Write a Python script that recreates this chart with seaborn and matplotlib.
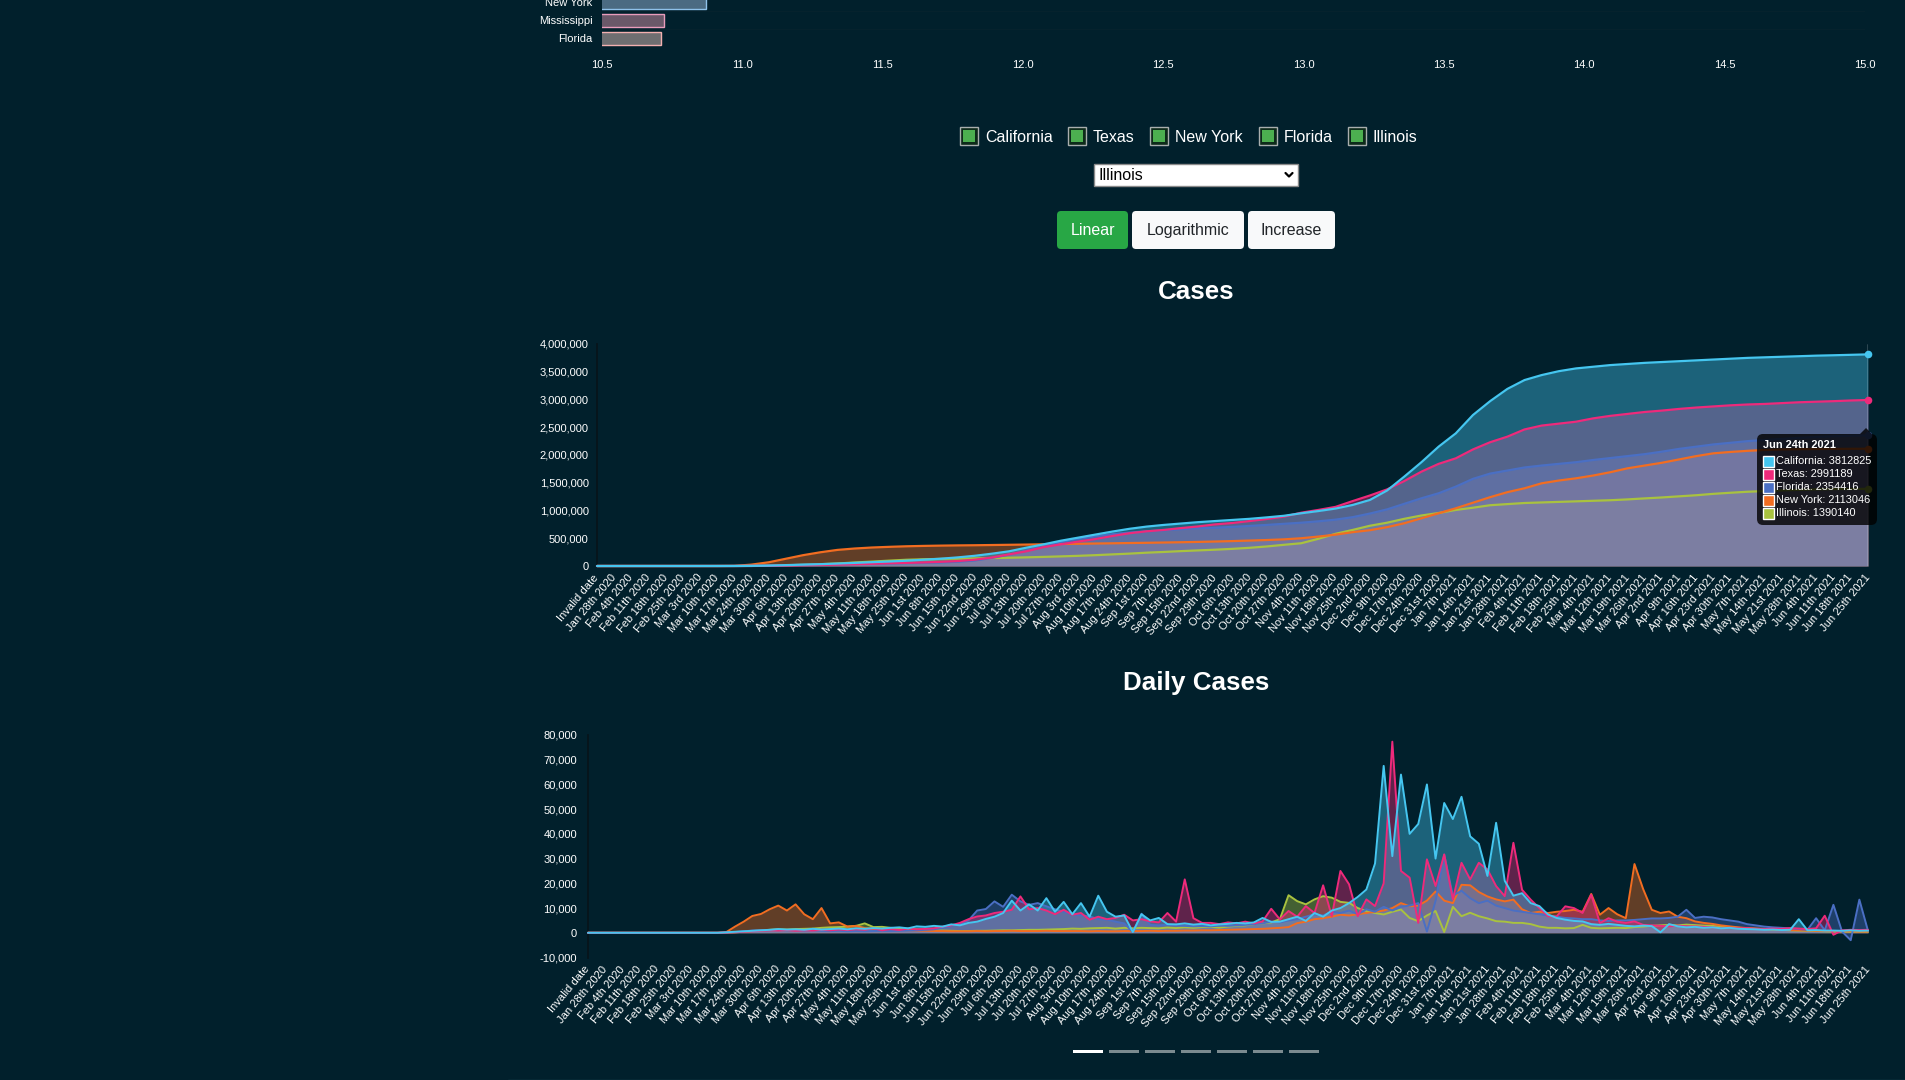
import numpy as np
import pandas as pd
import seaborn as sns
import matplotlib.pyplot as plt
from matplotlib.patches import Rectangle, FancyBboxPatch, Polygon
from matplotlib.ticker import FuncFormatter

W, H = 1905, 1080
BG = '#01202c'

# ---------------------------------------------------
# top bar chart (cut off by the top of the page)
# ---------------------------------------------------
bar_states = ['New York', 'Mississippi', 'Florida']
bar_values = [10.87, 10.72, 10.71]
bar_fill = ['#4b6b82', '#6a5869', '#6e6e71']
bar_edge = ['#8fc2ea', '#e99cbc', '#f2b0b0']
bar_ticks = [10.5, 11.0, 11.5, 12.0, 12.5, 13.0, 13.5, 14.0, 14.5, 15.0]

# ---------------------------------------------------
# controls
# ---------------------------------------------------
check_states = ['California', 'Texas', 'New York', 'Florida', 'Illinois']
selected_state = 'Illinois'
buttons = ['Linear', 'Logarithmic', 'Increase']

# ---------------------------------------------------
# x labels (one per week)
# ---------------------------------------------------
week_labels = [
    'Invalid date', 'Jan 28th 2020', 'Feb 4th 2020', 'Feb 11th 2020', 'Feb 18th 2020',
    'Feb 25th 2020', 'Mar 3rd 2020', 'Mar 10th 2020', 'Mar 17th 2020', 'Mar 24th 2020',
    'Mar 30th 2020', 'Apr 6th 2020', 'Apr 13th 2020', 'Apr 20th 2020', 'Apr 27th 2020',
    'May 4th 2020', 'May 11th 2020', 'May 18th 2020', 'May 25th 2020', 'Jun 1st 2020',
    'Jun 8th 2020', 'Jun 15th 2020', 'Jun 22nd 2020', 'Jun 29th 2020', 'Jul 6th 2020',
    'Jul 13th 2020', 'Jul 20th 2020', 'Jul 27th 2020', 'Aug 3rd 2020', 'Aug 10th 2020',
    'Aug 17th 2020', 'Aug 24th 2020', 'Sep 1st 2020', 'Sep 7th 2020', 'Sep 15th 2020',
    'Sep 22nd 2020', 'Sep 29th 2020', 'Oct 6th 2020', 'Oct 13th 2020', 'Oct 20th 2020',
    'Oct 27th 2020', 'Nov 4th 2020', 'Nov 11th 2020', 'Nov 18th 2020', 'Nov 25th 2020',
    'Dec 2nd 2020', 'Dec 9th 2020', 'Dec 17th 2020', 'Dec 24th 2020', 'Dec 31st 2020',
    'Jan 7th 2021', 'Jan 14th 2021', 'Jan 21st 2021', 'Jan 28th 2021', 'Feb 4th 2021',
    'Feb 11th 2021', 'Feb 18th 2021', 'Feb 25th 2021', 'Mar 4th 2021', 'Mar 12th 2021',
    'Mar 19th 2021', 'Mar 26th 2021', 'Apr 2nd 2021', 'Apr 9th 2021', 'Apr 16th 2021',
    'Apr 23rd 2021', 'Apr 30th 2021', 'May 7th 2021', 'May 14th 2021', 'May 21st 2021',
    'May 28th 2021', 'Jun 4th 2021', 'Jun 11th 2021', 'Jun 18th 2021', 'Jun 25th 2021',
]
tooltip_date = 'Jun 24th 2021'

# ---------------------------------------------------
# cumulative cases, thousands, one value per week label
# ---------------------------------------------------
cum_ca = [0, 0, 0, 0, 0, 0, 0.05, 0.2, 0.7, 2.5, 7, 16, 24, 33, 44, 56, 69, 81, 95, 113,
          131, 155, 184, 222, 265, 330, 390, 455, 510, 565, 620, 670, 710, 740, 765, 790,
          810, 830, 850, 876, 905, 950, 990, 1035, 1100, 1190, 1360, 1610, 1870, 2150,
          2390, 2720, 2970, 3190, 3350, 3440, 3510, 3560, 3590, 3620, 3640, 3660, 3675,
          3690, 3705, 3720, 3735, 3750, 3760, 3770, 3780, 3790, 3797, 3805, 3812.825]
cum_tx = [0, 0, 0, 0, 0, 0, 0, 0.01, 0.1, 0.7, 3, 8, 14, 19, 25, 32, 39, 49, 56, 64,
          75, 89, 114, 153, 210, 265, 340, 390, 440, 485, 540, 590, 625, 650, 683, 713,
          750, 775, 810, 847, 890, 960, 1010, 1065, 1170, 1270, 1380, 1530, 1700, 1840,
          1940, 2100, 2230, 2330, 2460, 2530, 2565, 2600, 2660, 2705, 2740, 2775, 2800,
          2830, 2855, 2875, 2895, 2910, 2920, 2935, 2950, 2960, 2970, 2982, 2991.189]
cum_fl = [0, 0, 0, 0, 0, 0, 0, 0.03, 0.2, 1.4, 5.5, 14, 21, 27, 32, 37, 41, 46, 51, 57,
          64, 77, 100, 146, 206, 282, 350, 432, 487, 532, 573, 602, 625, 643, 663, 680,
          690, 705, 722, 740, 760, 780, 805, 835, 880, 945, 1020, 1120, 1220, 1310,
          1430, 1570, 1665, 1720, 1775, 1810, 1840, 1870, 1910, 1945, 1980, 2015, 2060,
          2110, 2150, 2190, 2220, 2250, 2270, 2290, 2310, 2325, 2338, 2347, 2354.416]
cum_ny = [0, 0, 0, 0, 0, 0, 0, 0.2, 1.7, 25, 67, 131, 195, 247, 290, 315, 333, 345, 355, 362,
          367, 371, 374, 378, 382, 386, 391, 396, 400, 405, 409, 414, 418, 423, 428, 434,
          441, 449, 458, 468, 480, 500, 530, 565, 610, 645, 700, 770, 860, 950,
          1040, 1140, 1240, 1330, 1400, 1490, 1540, 1580, 1630, 1690, 1760, 1810, 1860,
          1920, 1980, 2030, 2055, 2075, 2090, 2100, 2105, 2108, 2110, 2112, 2113.046]
cum_il = [0, 0, 0, 0, 0, 0, 0, 0.02, 0.16, 1.5, 5, 12, 22, 32, 45, 63, 79, 96, 112, 121,
          128, 133, 137, 143, 149, 156, 164, 173, 183, 195, 209, 223, 240, 253, 268, 281,
          294, 309, 328, 352, 382, 410, 490, 580, 650, 725, 780, 850, 910, 955,
          1010, 1050, 1095, 1115, 1135, 1145, 1155, 1165, 1175, 1185, 1200, 1218, 1235,
          1255, 1275, 1300, 1320, 1338, 1350, 1362, 1372, 1380, 1385, 1388, 1390.14]

# ---------------------------------------------------
# daily cases, thousands, two values per week label
# ---------------------------------------------------
daily_ca = [0, 0, 0, 0, 0, 0, 0, 0, 0, 0, 0, 0, 0, 0, 0, 0,
            0.2, 0.4, 0.6, 0.8, 1.0, 1.2, 1.5, 1.3, 1.4, 1.2, 1.6, 1.3, 1.5, 1.7, 1.4, 1.8,
            1.6, 1.9, 1.7, 2.0, 2.2, 1.8, 2.6, 2.4, 2.8, 2.5, 3.4, 3.0, 4.0, 4.5, 5.6, 6.5,
            8.0, 13.0, 9.0, 11.5, 9.0, 14.0, 8.5, 12.5, 7.5, 12.0, 6.5, 15.0, 8.5, 6.5, 7.0, 0.3,
            7.5, 5.0, 6.0, 3.5, 3.4, 3.8, 3.3, 3.6, 3.0, 3.4, 3.6, 4.0, 3.8, 4.2, 6.0, 4.4,
            4.5, 5.5, 6.5, 4.8, 8.0, 6.5, 9.0, 10.0, 12.0, 14.5, 17.5, 28.0, 67.5, 31.0, 64.0, 40.0,
            44.0, 60.0, 30.0, 52.5, 46.0, 55.0, 39.0, 36.0, 23.0, 44.5, 21.0, 15.0, 16.0, 12.0, 10.8, 7.4,
            6.0, 5.3, 4.8, 4.6, 3.5, 3.2, 3.6, 3.2, 2.8, 2.6, 2.9, 2.7, 0.2, 3.5, 2.6, 2.2,
            2.4, 2.0, 2.2, 1.8, 2.0, 1.6, 1.5, 1.4, 1.2, 1.3, 1.1, 1.2, 5.5, 1.0, 1.1, 0.9,
            0.9, 0.8, 1.0, 0.8, 0.9]
daily_tx = [0, 0, 0, 0, 0, 0, 0, 0, 0, 0, 0, 0, 0, 0, 0, 0,
            0.1, 0.2, 0.4, 0.6, 0.8, 1.0, 0.9, 1.1, 0.8, 1.0, 0.9, 1.2, 1.0, 1.3, 1.1, 1.4,
            1.2, 1.8, 1.0, 1.5, 1.1, 1.7, 1.4, 1.6, 1.8, 2.5, 3.0, 4.0, 5.5, 6.6, 7.0, 8.0,
            8.5, 9.3, 14.7, 9.5, 10.0, 9.0, 7.5, 9.3, 7.3, 8.0, 5.3, 6.5, 5.5, 6.0, 7.3, 5.0,
            5.5, 4.6, 4.2, 8.0, 4.5, 21.6, 5.9, 4.0, 4.0, 3.5, 4.2, 3.8, 4.5, 3.8, 4.6, 9.7,
            5.4, 8.8, 6.5, 10.8, 8.0, 19.2, 6.7, 25.0, 19.6, 6.7, 13.5, 10.8, 20.0, 77.3, 25.0, 22.3,
            4.0, 29.7, 18.9, 31.7, 13.5, 28.3, 21.6, 28.3, 25.6, 18.9, 14.8, 36.4, 17.4, 13.4, 10.0, 6.7,
            6.6, 10.7, 10.0, 8.0, 15.4, 3.9, 5.9, 4.5, 4.0, 4.6, 3.2, 3.0, 2.8, 2.6, 2.9, 2.6,
            2.6, 2.4, 2.2, 1.9, 2.0, 1.8, 1.9, 1.6, 1.5, 1.7, 1.6, 1.9, 1.7, 1.5, 1.8, 6.9,
            -0.8, 1.0, 1.2, 1.1, 1.2]
daily_fl = [0, 0, 0, 0, 0, 0, 0, 0, 0, 0, 0, 0, 0, 0, 0, 0,
            0.1, 0.3, 0.6, 0.9, 1.0, 1.1, 1.2, 1.0, 1.1, 0.9, 1.0, 0.8, 0.7, 0.8, 0.6, 0.7,
            0.6, 0.7, 0.8, 0.7, 0.8, 0.9, 1.0, 1.2, 1.4, 2.0, 2.8, 3.5, 5.0, 9.0, 9.6, 12.7,
            10.5, 15.4, 12.7, 11.3, 12.0, 10.7, 9.5, 8.5, 7.5, 7.0, 6.6, 5.5, 5.3, 4.5, 3.8, 0.3,
            7.7, 3.2, 3.0, 3.2, 3.0, 2.8, 2.6, 2.7, 2.6, 2.9, 2.8, 3.0, 3.2, 3.5, 3.8, 4.5,
            4.2, 5.0, 5.5, 6.5, 7.5, 7.0, 8.5, 8.0, 9.0, 7.5, 9.5, 8.5, 10.5, 9.0, 10.5, 11.0,
            12.0, 0.5, 13.0, 31.6, 15.0, 17.0, 14.0, 12.0, 13.0, 11.0, 10.0, 9.0, 8.5, 8.0, 7.5, 7.0,
            6.5, 6.0, 5.8, 5.5, 5.5, 5.0, 4.8, 5.0, 5.0, 5.2, 5.5, 5.8, 5.8, 6.0, 6.5, 9.3,
            6.0, 6.5, 6.2, 5.5, 5.0, 4.5, 3.5, 3.0, 2.5, 2.2, 2.0, 1.8, 1.5, 1.2, 5.9, 1.0,
            11.3, 0.5, -3.0, 13.4, 0.8]
daily_ny = [0, 0, 0, 0, 0, 0, 0, 0, 0, 0, 0, 0, 0, 0, 0, 0,
            0.3, 2.5, 4.5, 6.8, 7.6, 9.5, 11.0, 9.0, 11.5, 7.5, 5.5, 10.0, 3.8, 4.2, 2.5, 2.8,
            1.9, 1.6, 1.5, 1.3, 1.2, 1.0, 0.9, 0.8, 0.7, 0.7, 0.6, 0.6, 0.6, 0.7, 0.6, 0.7,
            0.7, 0.8, 0.7, 0.7, 0.7, 0.8, 0.7, 0.7, 0.7, 0.7, 0.6, 0.7, 0.6, 0.6, 0.7, 0.7,
            0.7, 0.8, 0.7, 0.8, 0.8, 0.9, 0.9, 1.0, 1.0, 1.1, 1.2, 1.3, 1.4, 1.5, 1.6, 1.8,
            2.0, 2.3, 3.9, 4.5, 5.5, 5.9, 6.5, 7.3, 7.0, 7.5, 8.0, 8.5, 9.0, 10.0, 12.0, 10.7,
            11.0, 13.0, 16.7, 13.0, 12.0, 19.4, 19.2, 16.5, 14.7, 13.5, 12.7, 13.4, 9.5, 8.0, 8.5, 8.0,
            8.5, 8.8, 9.3, 8.5, 15.7, 7.3, 10.0, 7.5, 5.9, 27.8, 17.7, 9.3, 8.0, 8.6, 6.5, 5.9,
            4.6, 4.0, 3.6, 3.0, 2.6, 2.2, 1.9, 1.7, 1.6, 1.4, 1.2, 1.1, 1.0, 0.9, 0.8, 0.7,
            0.7, 0.6, 0.6, 0.5, 0.5]
daily_il = [0, 0, 0, 0, 0, 0, 0, 0, 0, 0, 0, 0, 0, 0, 0, 0,
            0.05, 0.2, 0.4, 0.7, 0.9, 1.2, 1.4, 1.3, 1.5, 1.6, 1.7, 2.0, 2.2, 2.3, 2.5, 2.8,
            3.8, 2.3, 2.4, 2.0, 1.8, 1.6, 1.4, 1.2, 1.0, 0.9, 0.8, 0.7, 0.7, 0.8, 0.8, 0.9,
            1.0, 1.0, 1.1, 1.2, 1.2, 1.3, 1.4, 1.5, 1.7, 1.6, 1.8, 1.9, 2.0, 1.7, 2.0, 1.8,
            2.0, 1.9, 1.8, 2.1, 1.9, 2.2, 2.0, 2.3, 2.4, 2.1, 2.5, 2.8, 3.0, 3.5, 3.8, 4.2,
            5.5, 15.2, 12.8, 11.5, 13.5, 14.8, 14.2, 12.5, 12.1, 10.0, 8.8, 8.0, 7.4, 8.5, 9.4, 6.0,
            4.7, 7.0, 8.8, 0.3, 10.5, 6.7, 8.1, 6.7, 5.8, 4.7, 4.5, 4.0, 4.0, 3.5, 2.5, 2.0,
            2.0, 1.8, 1.9, 3.2, 2.0, 1.8, 1.9, 2.0, 1.9, 2.3, 2.5, 2.8, 3.0, 3.2, 3.0, 3.3,
            3.1, 2.9, 2.8, 2.5, 2.2, 2.0, 1.8, 1.6, 1.5, 1.3, 1.2, 1.0, 0.9, 0.8, 0.7, 0.6,
            0.5, 0.5, 0.4, 0.5, 0.4]

# dataset order as in the tooltip; chart.js paints the first one last (on top)
series_names = ['California', 'Texas', 'Florida', 'New York', 'Illinois']
series_colors = ['#45c6f0', '#ee2a7b', '#4a6fc4', '#f26d21', '#a9c23f']
series_cum = [cum_ca, cum_tx, cum_fl, cum_ny, cum_il]
series_daily = [daily_ca, daily_tx, daily_fl, daily_ny, daily_il]

week_x = np.arange(len(week_labels))
daily_x = np.arange(len(daily_ca)) / 2

# ---------------------------------------------------
sns.set_theme(style='dark', rc={
    'figure.facecolor': BG, 'axes.facecolor': BG, 'savefig.facecolor': BG,
    'text.color': 'white', 'xtick.color': 'white', 'ytick.color': 'white',
    'axes.labelcolor': 'white',
})
plt.rcParams['font.family'] = ['Liberation Sans', 'DejaVu Sans']

fig = plt.figure(figsize=(W / 100, H / 100), dpi=100)


def px_axes(l, t, r, b):
    return fig.add_axes([l / W, 1 - b / H, (r - l) / W, (b - t) / H])


def plain(ax):
    for s in ax.spines.values():
        s.set_visible(False)
    ax.grid(False)
    ax.set_xlabel('')
    ax.set_ylabel('')


def area_chart(ax, x, values, lw):
    n = len(series_names)
    # all fills first (last dataset at the bottom), then all lines
    for k in reversed(range(n)):
        y = np.array(values[k]) * 1000
        ax.fill_between(x, 0, y, color=series_colors[k], alpha=0.4, lw=0, zorder=2 + n - k)
    for k in reversed(range(n)):
        y = np.array(values[k]) * 1000
        sns.lineplot(x=x, y=y, ax=ax, color=series_colors[k], linewidth=lw,
                     zorder=10 + n - k, clip_on=False, estimator=None)


TICK = 8  # 11px

# ---------------- top bar chart ----------------
axb = px_axes(602, -6.7, 1865, 47.3)
sns.barplot(x=bar_values, y=bar_states, hue=bar_states, palette=bar_fill,
            orient='h', width=0.7, saturation=1, legend=False, ax=axb)
for p in axb.patches:
    i = int(round(p.get_y() + p.get_height() / 2))
    p.set_edgecolor(bar_edge[i])
    p.set_linewidth(1.0)
plain(axb)
axb.set_xlim(10.5, 15.0)
axb.set_ylim(2.5, -0.5)
axb.set_xticks(bar_ticks)
axb.set_xticklabels([f'{t:.1f}' for t in bar_ticks], fontsize=TICK)
axb.tick_params(axis='x', length=0, pad=9)
axb.tick_params(axis='y', length=0, pad=7, labelsize=TICK)
for yy in [0.5, 1.5, 2.5]:
    axb.axhline(yy, color='#06222d', lw=1, zorder=0)

# ---------------- cumulative chart ----------------
axc = px_axes(597, 344, 1868, 566)
area_chart(axc, week_x, series_cum, 1.6)
axc.axvline(week_x[-1], color='#dfe6e9', lw=1, zorder=30)
for k in range(len(series_names)):
    axc.scatter(week_x[-1], series_cum[k][-1] * 1000, s=30, color=series_colors[k],
                zorder=31, clip_on=False, linewidths=0)
plain(axc)
axc.spines['left'].set_visible(True)
axc.spines['left'].set_color('#07141a')
axc.set_xlim(0, week_x[-1])
axc.set_ylim(0, 4000000)
axc.set_yticks(np.arange(0, 4000001, 500000))
axc.yaxis.set_major_formatter(FuncFormatter(lambda v, p: f'{int(v):,}'))
axc.set_xticks(week_x)
axc.set_xticklabels(week_labels, rotation=50, ha='right', va='center',
                    rotation_mode='anchor', fontsize=TICK)
axc.tick_params(axis='x', length=0, pad=7)
axc.tick_params(axis='y', length=0, pad=6, labelsize=TICK)

# ---------------- daily chart ----------------
axd = px_axes(588, 735, 1868, 957.5)
area_chart(axd, daily_x, series_daily, 1.4)
plain(axd)
axd.spines['left'].set_visible(True)
axd.spines['left'].set_color('#07141a')
axd.set_xlim(0, daily_x[-1])
axd.set_ylim(-10000, 80000)
axd.set_yticks(np.arange(-10000, 80001, 10000))
axd.yaxis.set_major_formatter(FuncFormatter(lambda v, p: f'{int(v):,}'))
axd.set_xticks(week_x)
axd.set_xticklabels(week_labels, rotation=50, ha='right', va='center',
                    rotation_mode='anchor', fontsize=TICK)
axd.tick_params(axis='x', length=0, pad=7)
axd.tick_params(axis='y', length=0, pad=8, labelsize=TICK)

# ---------------- page overlay (controls, titles, tooltip) ----------------
ui = fig.add_axes([0, 0, 1, 1])
ui.set_xlim(0, W)
ui.set_ylim(H, 0)
ui.axis('off')
ui.set_zorder(10)

UI_FS = 11.5  # 16px
box_x = [960, 1068, 1150, 1259, 1348]
for bx, name in zip(box_x, check_states):
    ui.add_patch(Rectangle((bx, 127), 18, 18, fc='#0d2a1a', ec='#a9aeae', lw=1))
    ui.add_patch(Rectangle((bx + 3, 130), 12, 12, fc='#4caf50', ec='none'))
    ui.text(bx + 25, 135.5, name, ha='left', va='center_baseline', fontsize=UI_FS, color='white')

# select box
ui.add_patch(Rectangle((1094, 164), 204, 22, fc='white', ec='#8a8a8a', lw=1))
ui.text(1099, 174, selected_state, ha='left', va='center_baseline', fontsize=UI_FS,
        color='black')
ui.plot([1285.5, 1289, 1292.5], [173, 176.5, 173], color='black', lw=1.6,
        solid_capstyle='round', solid_joinstyle='round')

# buttons
btn_box = [(1057, 71), (1132, 112), (1248, 87)]
for (bx, bw), label, active in zip(btn_box, buttons, [True, False, False]):
    ui.add_patch(FancyBboxPatch((bx, 211), bw, 38, boxstyle='round,pad=0,rounding_size=4',
                                fc='#28a745' if active else '#f8f9fa', ec='none'))
    ui.text(bx + bw / 2, 229, label, ha='center', va='center_baseline', fontsize=UI_FS,
            color='white' if active else '#212529')

# chart titles
ui.text(1196, 292, 'Cases', ha='center', va='center', fontsize=18.7,
        fontweight='bold', color='white')
ui.text(1196, 683, 'Daily Cases', ha='center', va='center', fontsize=18.7,
        fontweight='bold', color='white')

# tooltip
tip = (0, 0, 0, 0.8)
ui.add_patch(FancyBboxPatch((1757, 434), 120, 91, boxstyle='round,pad=0,rounding_size=6',
                            fc=tip, ec='none'))
ui.add_patch(Polygon([(1860, 434), (1866, 428), (1872, 434)], closed=True, fc=tip, ec='none'))
ui.text(1763, 445, tooltip_date, ha='left', va='center', fontsize=7.9,
        fontweight='bold', color='white')
for i, name in enumerate(series_names):
    yy = 461 + i * 13
    ui.add_patch(Rectangle((1763, yy - 5.5), 11, 11, fc=series_colors[i], ec='white', lw=1))
    ui.text(1776, yy, f'{name}: {int(round(series_cum[i][-1] * 1000))}', ha='left',
            va='center', fontsize=7.9, color='white')

# carousel indicators
for j, dx in enumerate(range(1073, 1290, 36)):
    ui.add_patch(Rectangle((dx, 1050), 30, 3, fc='white' if j == 0 else '#7b8b90', ec='none'))
ui.plot([508, W], [1079.5, 1079.5], color='#1e4a57', lw=1)

fig.savefig('out.png', dpi=100, facecolor=BG)
